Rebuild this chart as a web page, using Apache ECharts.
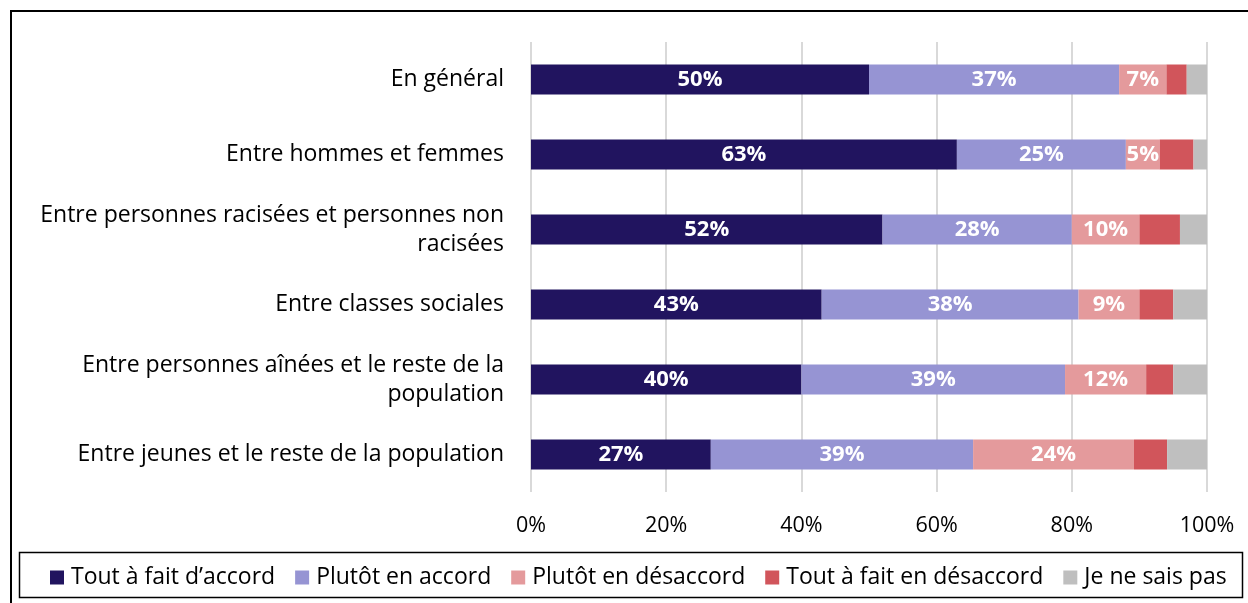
<!DOCTYPE html>
<html>
<head>
<meta charset="utf-8">
<script src="https://cdn.jsdelivr.net/npm/echarts@6/dist/echarts.min.js"></script>
<style>html,body{margin:0;padding:0;background:#fff}#c{width:1248px;height:603px}</style>
</head>
<body>
<div id="c"></div>
<script>
var categories = [
  "En général",
  "Entre hommes et femmes",
  "Entre personnes racisées et personnes non\nracisées",
  "Entre classes sociales",
  "Entre personnes aînées et le reste de la\npopulation",
  "Entre jeunes et le reste de la population"
];
var seriesNames = ["Tout à fait d’accord", "Plutôt en accord", "Plutôt en désaccord", "Tout à fait en désaccord", "Je ne sais pas"];
var toutAccord     = [50, 63, 52, 43, 40, 26.6];
var plutotAccord   = [37, 25, 28, 38, 39, 38.8];
var plutotDesacc   = [7, 5, 10, 9, 12, 23.8];
var toutDesacc     = [3, 5, 6, 5, 4, 4.9];
var neSaisPas      = [3, 2, 4, 5, 5, 5.9];
var xTicks = [0, 20, 40, 60, 80, 100];

var colors = ["#21145f", "#9694d3", "#e49a9c", "#d1555b", "#bfbfbf"];
var FONT = "Open Sans";
var values = [toutAccord, plutotAccord, plutotDesacc, toutDesacc, neSaisPas];

var chart = echarts.init(document.getElementById('c'));
var series = values.map(function (arr, i) {
  return {
    name: seriesNames[i],
    type: 'bar',
    stack: 'total',
    barWidth: 30,
    data: arr,
    itemStyle: { color: colors[i] },
    label: {
      show: i < 3,
      position: 'inside',
      color: '#fff',
      fontWeight: 'bold',
      fontSize: 22,
      fontFamily: FONT,
      formatter: function (p) { return Math.round(p.value) + '%'; }
    },
    emphasis: { disabled: true }
  };
});

chart.setOption({
  animation: false,
  color: colors,
  grid: { left: 531, right: 41, top: 42, bottom: 111, containLabel: false },
  xAxis: {
    type: 'value', min: 0, max: 100, interval: 20,
    axisLine: { show: false }, axisTick: { show: false },
    splitLine: { lineStyle: { color: '#d9d9d9', width: 2 } },
    axisLabel: { formatter: function (v) { return xTicks.indexOf(v) >= 0 ? v + '%' : ''; }, color: '#000', fontSize: 21.5, fontFamily: FONT, margin: 23 }
  },
  yAxis: {
    type: 'category', inverse: true, data: categories,
    axisLine: { show: false }, axisTick: { show: false },
    axisLabel: { color: '#000', fontSize: 23, fontFamily: FONT, margin: 27, align: 'right', lineHeight: 29 }
  },
  legend: {
    left: 45, top: 561, width: 1400, itemWidth: 14, itemHeight: 14, itemGap: 20,
    icon: 'rect',
    textStyle: { color: '#000', fontSize: 23, fontFamily: FONT, padding: [0, 0, 0, 2] },
    data: seriesNames
  },
  graphic: [
    { type: 'rect', shape: { x: 11, y: 11, width: 1300, height: 700 }, style: { fill: 'none', stroke: '#000', lineWidth: 2 }, silent: true },
    { type: 'rect', shape: { x: 19.5, y: 552.5, width: 1223, height: 45 }, style: { fill: 'none', stroke: '#000', lineWidth: 1.5 }, silent: true }
  ],
  series: series
});
</script>
</body>
</html>
